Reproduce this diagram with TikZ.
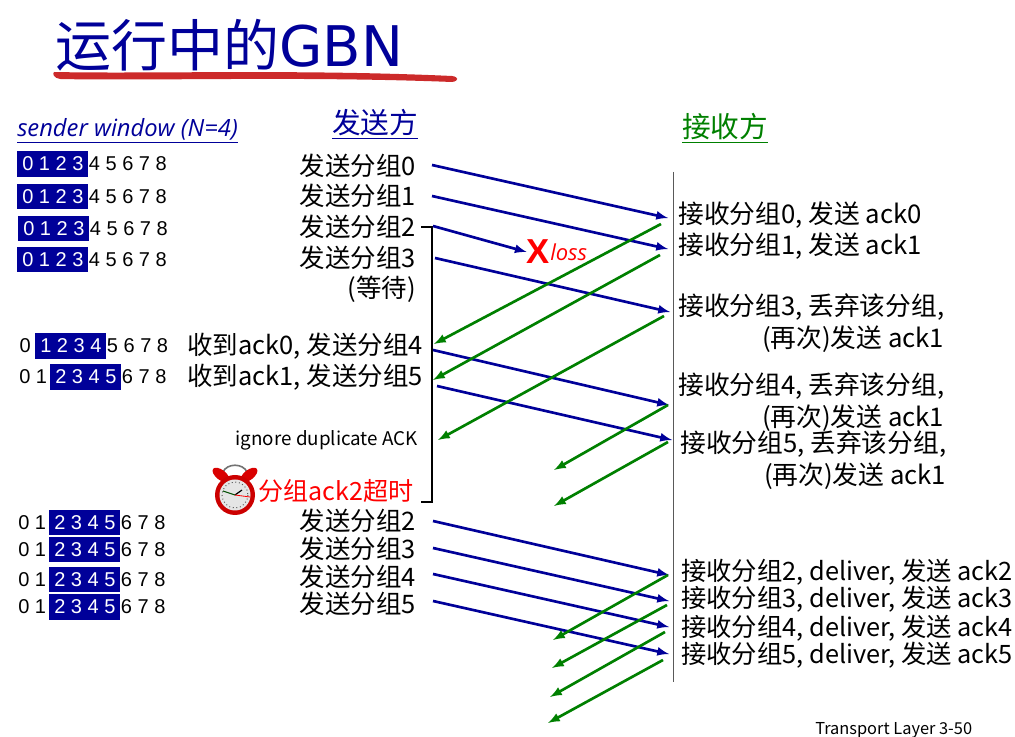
\documentclass[tikz,border=0pt]{standalone}
\usepackage{fontspec}
\setmainfont{Noto Sans CJK SC}
\newfontfamily\winfont{Liberation Sans}
\newfontfamily\slantfont{Open Sans}
\newfontfamily\titlefont{DejaVu Sans}
\usetikzlibrary{positioning}
\definecolor{navyblue}{HTML}{000099}
\definecolor{ackgreen}{HTML}{008000}
\definecolor{markred}{HTML}{CC2A2A}
\tikzset{
	sendlbl/.style={anchor=east, inner sep=0pt, font=\fontsize{19.1}{22}\selectfont},
	recvlbl/.style={anchor=west, inner sep=0pt, align=right, font=\fontsize{19.3}{24}\selectfont},
	dlvrlbl/.style={anchor=west, inner sep=0pt, font=\fontsize{19}{24}\selectfont},
	winbox/.style={fill=navyblue, text=white, inner ysep=0pt, inner xsep=3.75pt, minimum height=19pt, font=\fontsize{15}{18}\winfont},
	winrest/.style={inner sep=0pt, font=\fontsize{15}{18}\winfont},
	dataarrow/.style={navyblue, line width=2pt, -latex},
	ackarrow/.style={ackgreen, line width=2pt, -latex},
}
\begin{document}
\begin{tikzpicture}[x=0.75pt, y=-0.75pt]
	\useasboundingbox (0,0) rectangle (1015,737);
	% title
	\node (title) [anchor=west, inner sep=0pt, navyblue, font=\fontsize{42}{48}\selectfont] at (55,45) {运行中的{\fontsize{42}{48}\titlefont GBN}};
	\fill[markred] (54,72) .. controls (150,74) and (300,69) .. (452,76) .. controls (459,77) and (459,81) .. (452,82) .. controls (300,76) and (150,81) .. (60,79) .. controls (54,78) and (52,74) .. (54,72) -- cycle;
	% headers
	\node (winhead) [anchor=west, inner sep=0pt, navyblue, font=\fontsize{17.8}{20}\slantfont\itshape] at (17,131) {\underline{sender window (N=4)}};
	\node (sendhead) [anchor=center, inner sep=0pt, navyblue, font=\fontsize{21.5}{24}\selectfont] at (375,124) {\underline{发送方}};
	\node (recvhead) [anchor=center, inner sep=0pt, ackgreen, font=\fontsize{21.5}{24}\selectfont] at (725,128) {\underline{接收方}};
	% sender windows
	\node (w0) [winbox, anchor=west] at (17,164) {0 1 2 3};
	\node (w0r) [winrest, right=0pt of w0] {4 5 6 7 8};
	\node (w1) [winbox, anchor=west] at (17,196.5) {0 1 2 3};
	\node (w1r) [winrest, right=0pt of w1] {4 5 6 7 8};
	\node (w2) [winbox, anchor=west] at (18,228.5) {0 1 2 3};
	\node (w2r) [winrest, right=0pt of w2] {4 5 6 7 8};
	\node (w3) [winbox, anchor=west] at (17,259.5) {0 1 2 3};
	\node (w3r) [winrest, right=0pt of w3] {4 5 6 7 8};
	\node (w4) [winbox, anchor=west] at (35,346) {1 2 3 4};
	\node (w4l) [winrest, left=3pt of w4] {0};
	\node (w4r) [winrest, right=0pt of w4] {5 6 7 8};
	\node (w5) [winbox, anchor=west] at (50,377) {2 3 4 5};
	\node (w5l) [winrest, left=2pt of w5] {0 1};
	\node (w5r) [winrest, right=0pt of w5] {6 7 8};
	\node (w6) [winbox, anchor=west] at (49,522.5) {2 3 4 5};
	\node (w6l) [winrest, left=2pt of w6] {0 1};
	\node (w6r) [winrest, right=0pt of w6] {6 7 8};
	\node (w7) [winbox, anchor=west] at (49,549.5) {2 3 4 5};
	\node (w7l) [winrest, left=2pt of w7] {0 1};
	\node (w7r) [winrest, right=0pt of w7] {6 7 8};
	\node (w8) [winbox, anchor=west] at (49,579.5) {2 3 4 5};
	\node (w8l) [winrest, left=2pt of w8] {0 1};
	\node (w8r) [winrest, right=0pt of w8] {6 7 8};
	\node (w9) [winbox, anchor=west] at (49,607) {2 3 4 5};
	\node (w9l) [winrest, left=2pt of w9] {0 1};
	\node (w9r) [winrest, right=0pt of w9] {6 7 8};
	% sender side
	\node (s0) [sendlbl] at (416,166) {发送分组0};
	\node (s1) [sendlbl] at (416,196) {发送分组1};
	\node (s2) [sendlbl] at (416,227) {发送分组2};
	\node (s3) [sendlbl] at (416,258) {发送分组3};
	\node (wait) [sendlbl] at (416,289) {(等待)};
	\node (s4) [sendlbl] at (423,346) {收到ack0, 发送分组4};
	\node (s5) [sendlbl] at (423,377) {收到ack1, 发送分组5};
	\node (ignore) [sendlbl, font=\fontsize{14.1}{16}\selectfont] at (418,440) {ignore duplicate ACK};
	\node (timeout) [sendlbl, red, font=\fontsize{18.8}{22}\selectfont] at (413.5,491) {分组ack2超时};
	\node (s6) [sendlbl] at (416,521) {发送分组2};
	\node (s7) [sendlbl] at (416,549) {发送分组3};
	\node (s8) [sendlbl] at (416,577) {发送分组4};
	\node (s9) [sendlbl] at (416,604) {发送分组5};
	% receiver side
	\node (r0) [recvlbl] at (678,215) {接收分组0, 发送 ack0};
	\node (r1) [recvlbl] at (678,246) {接收分组1, 发送 ack1};
	\node (r3) [recvlbl] at (678,323) {接收分组3, 丢弃该分组,\\(再次)发送 ack1};
	\node (r4) [recvlbl] at (678,402) {接收分组4, 丢弃该分组,\\(再次)发送 ack1};
	\node (r5) [recvlbl] at (680,460) {接收分组5, 丢弃该分组,\\(再次)发送 ack1};
	\node (r6) [dlvrlbl] at (681,572) {接收分组2, deliver, 发送 ack2};
	\node (r7) [dlvrlbl] at (681,599) {接收分组3, deliver, 发送 ack3};
	\node (r8) [dlvrlbl] at (681,628) {接收分组4, deliver, 发送 ack4};
	\node (r9) [dlvrlbl] at (681,655) {接收分组5, deliver, 发送 ack5};
	\node (page) [anchor=west, inner sep=0pt, font=\fontsize{12.3}{14}\selectfont] at (815,730) {Transport Layer 3-50};
	% loss mark
	\node (lossx) [anchor=center, inner sep=0pt, red, font=\fontsize{26}{28}\bfseries\winfont] at (538.5,252) {X};
	\node (loss) [anchor=west, inner sep=0pt, red, font=\fontsize{16.5}{20}\slantfont\itshape] at (550,252) {loss};
	% receiver time line
	\coordinate (tltop) at (673,172);
	\coordinate (tlbot) at (673,682);
	\draw[black!65, line width=0.7pt] (tltop) -- (tlbot);
	% timer bracket
	\coordinate (brtop) at (421,227);
	\coordinate (brtopr) at (432,227);
	\coordinate (brbotr) at (432,502);
	\coordinate (brbot) at (421,502);
	\draw[line width=2.2pt] (brtop) -- (brtopr) -- (brbotr) -- (brbot);
	% packets
	\coordinate (d0a) at (432,165);
	\coordinate (d0b) at (668,218);
	\coordinate (d1a) at (432,196);
	\coordinate (d1b) at (668,249);
	\coordinate (d2a) at (433,226);
	\coordinate (d3a) at (435,258);
	\coordinate (d3b) at (670,312);
	\coordinate (d4a) at (433,350);
	\coordinate (d4b) at (669,405);
	\coordinate (d5a) at (437,386);
	\coordinate (d5b) at (672,440);
	\coordinate (d6a) at (433,521);
	\coordinate (d6b) at (669,575);
	\coordinate (d7a) at (433,548);
	\coordinate (d7b) at (669,601);
	\coordinate (d8a) at (433,574);
	\coordinate (d8b) at (669,627);
	\coordinate (d9a) at (433,601);
	\coordinate (d9b) at (669,654);
	\draw[dataarrow] (d0a) -- (d0b);
	\draw[dataarrow] (d1a) -- (d1b);
	\draw[dataarrow] (d2a) -- (lossx.west);
	\draw[dataarrow] (d3a) -- (d3b);
	\draw[dataarrow] (d4a) -- (d4b);
	\draw[dataarrow] (d5a) -- (d5b);
	\draw[dataarrow] (d6a) -- (d6b);
	\draw[dataarrow] (d7a) -- (d7b);
	\draw[dataarrow] (d8a) -- (d8b);
	\draw[dataarrow] (d9a) -- (d9b);
	% acks
	\coordinate (a0a) at (661,224);
	\coordinate (a0b) at (434,344);
	\coordinate (a1a) at (660,255);
	\coordinate (a1b) at (433,380);
	\coordinate (a2a) at (664,316);
	\coordinate (a2b) at (438,440);
	\coordinate (a3a) at (668,405);
	\coordinate (a3b) at (554,470);
	\coordinate (a4a) at (668,442);
	\coordinate (a4b) at (554,506);
	\coordinate (a5a) at (668,575);
	\coordinate (a5b) at (553,640);
	\coordinate (a6a) at (667,605);
	\coordinate (a6b) at (552,668);
	\coordinate (a7a) at (665,632);
	\coordinate (a7b) at (550,697);
	\coordinate (a8a) at (663,660);
	\coordinate (a8b) at (548,723);
	\draw[ackarrow] (a0a) -- (a0b);
	\draw[ackarrow] (a1a) -- (a1b);
	\draw[ackarrow] (a2a) -- (a2b);
	\draw[ackarrow] (a3a) -- (a3b);
	\draw[ackarrow] (a4a) -- (a4b);
	\draw[ackarrow] (a5a) -- (a5b);
	\draw[ackarrow] (a6a) -- (a6b);
	\draw[ackarrow] (a7a) -- (a7b);
	\draw[ackarrow] (a8a) -- (a8b);
	% alarm clock
	\draw[black!55, line width=1.2pt] (223,472) .. controls (227,463) and (243,463) .. (247,472);
	\fill[red!85!black, rotate around={-38:(221,475)}] (221,475) ellipse (10 and 5);
	\fill[red!85!black, rotate around={38:(249,475)}] (249,475) ellipse (10 and 5);
	\fill[red!80!black] (235,495) circle (20);
	\fill[white!90!black] (235,495) circle (15.5);
	\draw[black!70, line width=0.7pt, dotted] (235,495) circle (13);
	\draw[black!70!green, line width=0.8pt] (235,495) -- (223,491);
	\draw[black, line width=0.9pt] (235,495) -- (242,490);
	\draw[red, line width=0.6pt] (235,495) -- (250,497);
\end{tikzpicture}
\end{document}
